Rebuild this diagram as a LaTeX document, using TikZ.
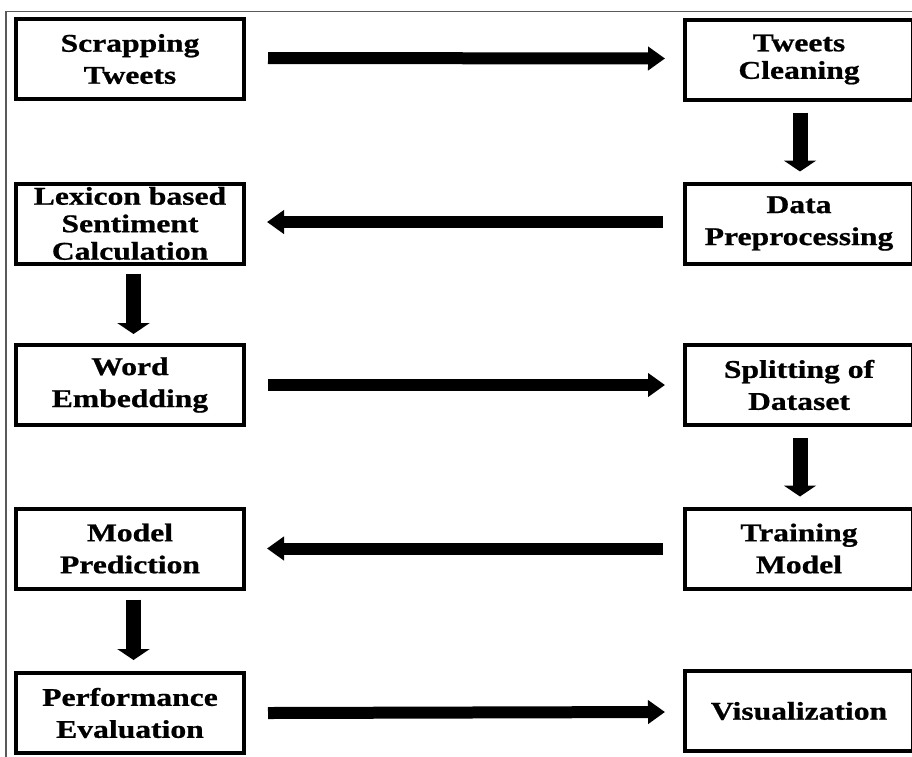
\documentclass[tikz,border=0pt]{standalone}
\usepackage{fontspec}
\setmainfont{Liberation Serif}[FakeStretch=1.24,FakeBold=0.8]
\usetikzlibrary{arrows.meta}
\begin{document}
\begin{tikzpicture}[x=1pt,y=-1pt,
  box/.style={draw, line width=4pt, minimum width=228pt, minimum height=80pt,
    inner sep=0pt, outer sep=0pt, align=center,
    font=\fontsize{25.5}{32}\selectfont\bfseries},
  tight/.style={font=\fontsize{25.5}{27.5}\selectfont\bfseries},
  harrow/.style={line width=12pt, -{Triangle[length=17pt,width=23pt]}},
  varrow/.style={line width=15pt, -{Triangle[length=11pt,width=32pt]}},
  frame/.style={line width=1.5pt, black!65}]
\useasboundingbox (0,0) rectangle (912,756);
\clip (0,0) rectangle (912,756);
\fill[white] (0,0) rectangle (912,756);
\draw[frame] (6,760) -- (6,11.5) -- (915,11.5);
% left column
\node[box] (scrap) at (130,59) {Scrapping\\Tweets};
\node[box,tight] (lex) at (130,223.5) {Lexicon based\\Sentiment\\Calculation};
\node[box] (word) at (130,385) {Word\\Embedding};
\node[box] (pred) at (130,548.5) {Model\\Prediction};
\node[box] (perf) at (130,713) {Performance\\Evaluation};
% right column
\node[box,tight] (clean) at (799,59.5) {Tweets\\Cleaning};
\node[box] (prep) at (799,223.5) {Data\\Preprocessing};
\node[box] (split) at (799,385) {Splitting of\\Dataset};
\node[box] (train) at (799,548.5) {Training\\Model};
\node[box] (vis) at (799,711) {Visualization};
% horizontal connectors
\draw[harrow] ([xshift=24pt,yshift=1pt]scrap.east) -- ([xshift=-20pt,yshift=1pt]clean.west);
\draw[harrow] ([xshift=-22pt,yshift=1.5pt]prep.west) -- ([xshift=23pt,yshift=1.5pt]lex.east);
\draw[harrow] ([xshift=24pt]word.east) -- ([xshift=-20pt]split.west);
\draw[harrow] ([xshift=-22pt]train.west) -- ([xshift=23pt]pred.east);
\draw[harrow] ([xshift=24pt]perf.east) -- ([xshift=-20pt,yshift=-1pt]vis.west);
% vertical connectors
\draw[varrow] ([yshift=-13pt,xshift=1pt]clean.south) -- ([yshift=12pt,xshift=1pt]prep.north);
\draw[varrow] ([yshift=-10pt,xshift=3.5pt]lex.south) -- ([yshift=11pt,xshift=3.5pt]word.north);
\draw[varrow] ([yshift=-13pt,xshift=1pt]split.south) -- ([yshift=12pt,xshift=1pt]train.north);
\draw[varrow] ([yshift=-11pt,xshift=3.5pt]pred.south) -- ([yshift=13pt,xshift=3.5pt]perf.north);
\end{tikzpicture}
\end{document}
